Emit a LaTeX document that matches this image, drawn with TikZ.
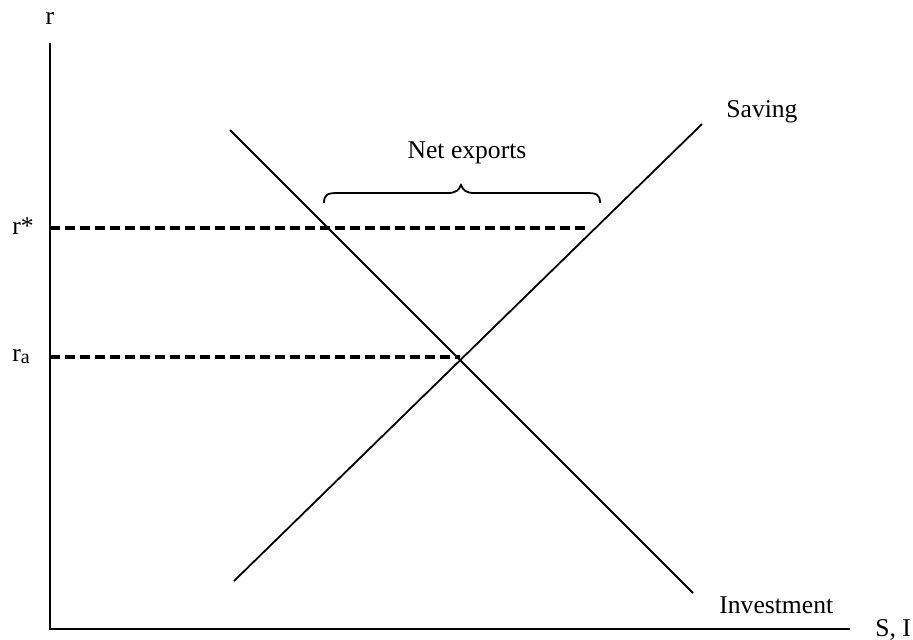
\documentclass[tikz,border=0pt]{standalone}
\usepackage{fontspec}
\setmainfont{Liberation Serif}
\begin{document}
\begin{tikzpicture}[x=0.5pt,y=-0.5pt,
  axis/.style={line width=1.1pt,black},
  curve/.style={line width=0.9pt,black},
  guide/.style={line width=1.8pt,black,dash pattern=on 5pt off 2.5pt},
  lbl/.style={font=\fontsize{12.8}{15}\selectfont,inner sep=0pt}]
\useasboundingbox (0,0) rectangle (913,639);
% axes
\coordinate (top) at (50,43);
\coordinate (origin) at (50,629);
\coordinate (right) at (850,629);
\draw[axis] (top) -- (origin) -- (right);
% curves
\coordinate (s1) at (234,581);
\coordinate (s2) at (702,124);
\coordinate (i1) at (230,130);
\coordinate (i2) at (693,593);
\draw[curve] (s1) -- (s2);
\draw[curve] (i1) -- (i2);
% dashed guides
\coordinate (rstar) at (50,228);
\coordinate (rstarend) at (590,228);
\coordinate (ra) at (50,357);
\coordinate (eq) at (460,357);
\draw[guide] (rstar) -- (rstarend);
\draw[guide] (ra) -- (eq);
% brace
\coordinate (bl) at (324,203);
\coordinate (bm) at (461,185);
\coordinate (br) at (600,203);
\draw[curve] (bl) .. controls (324,194) and (328,193) .. (338,193)
  -- (448,193) .. controls (456,193) and (459,190) .. (bm)
  .. controls (463,190) and (466,193) .. (474,193)
  -- (586,193) .. controls (596,193) and (600,194) .. (br);
% labels
\node[lbl,anchor=base] (rlab) at (50,24) {r};
\node[lbl,anchor=base west] (rstarlab) at (12,234) {r*};
\node[lbl,anchor=base west] (ralab) at (12,361) {r\raisebox{-0.25ex}{\fontsize{10}{12}\selectfont a}};
\node[lbl] (netx) at (467,153) {Net exports};
\node[lbl,anchor=base west] (sav) at (726,117) {Saving};
\node[lbl,anchor=base west] (inv) at (719,613) {Investment};
\node[lbl,anchor=base west] (si) at (875,636) {S, I};
\end{tikzpicture}
\end{document}
